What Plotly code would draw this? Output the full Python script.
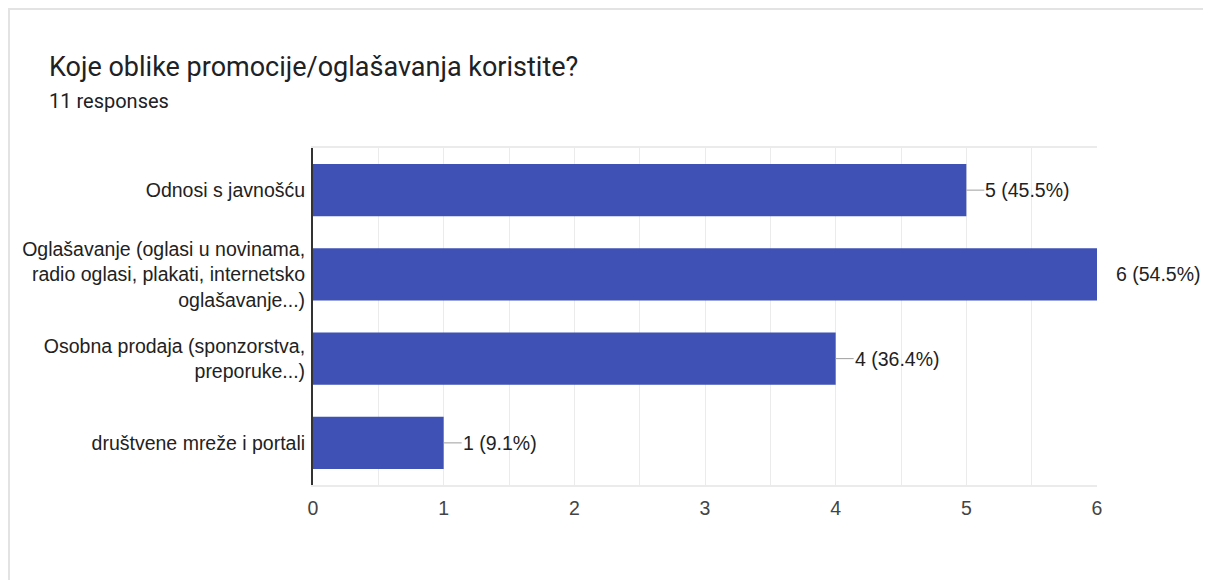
import plotly.graph_objects as go

# ---- data ----
categories = [
    "Odnosi s javnošću",
    "Oglašavanje (oglasi u novinama,<br>radio oglasi, plakati, internetsko<br>oglašavanje...)",
    "Osobna prodaja (sponzorstva,<br>preporuke...)",
    "društvene mreže i portali",
]
counts = [5, 6, 4, 1]
total_responses = 11
x_ticks = [0, 1, 2, 3, 4, 5, 6]

title_text = "Koje oblike promocije/oglašavanja koristite?"
subtitle_text = f"{total_responses} responses"

OFF = 8  # page body margin
W, H = 1211 - OFF, 580 - OFF
L, R, T, B = 313 - OFF, W - (1097 - OFF), 148 - OFF, H - (485 - OFF)
pw, ph = W - L - R, H - T - B

BAR = "#3f51b5"
LABEL_FONT = "Arial, Liberation Sans, sans-serif"
FS = 19.5


def px_x(x):
    return (x - OFF - L) / pw


def px_y(y):
    return (H - (y - OFF) - B) / ph


fig = go.Figure()
fig.add_trace(go.Bar(
    y=categories, x=counts, orientation="h",
    marker=dict(color=BAR, line=dict(width=0)),
    width=0.62, hoverinfo="skip", showlegend=False,
))

# leader lines (clipped at the plot area like the original)
lead = 18 / pw * 6
lx, ly = [], []
for c, v in zip(categories, counts):
    lx += [v, v + lead, None]
    ly += [c, c, None]
fig.add_trace(go.Scatter(x=lx, y=ly, mode="lines",
                         line=dict(color="#9e9e9e", width=1),
                         hoverinfo="skip", showlegend=False))

annotations = []
for c, v in zip(categories, counts):
    annotations.append(dict(
        x=v, y=c, xref="x", yref="y", text=f"{v} ({v / total_responses * 100:.1f}%)",
        showarrow=False, xanchor="left", yanchor="middle", xshift=17,
        font=dict(family=LABEL_FONT, size=FS, color="#222222"),
    ))

annotations.append(dict(
    x=px_x(47), y=px_y(67), xref="paper", yref="paper", text=title_text,
    showarrow=False, xanchor="left", yanchor="middle",
    font=dict(family="Roboto, sans-serif", size=27, color="#202124"),
))
annotations.append(dict(
    x=px_x(47), y=px_y(101), xref="paper", yref="paper", text=subtitle_text,
    showarrow=False, xanchor="left", yanchor="middle",
    font=dict(family="Roboto, sans-serif", size=20, color="#202124"),
))

shapes = [
    # card border (top and left edges)
    dict(type="line", xref="paper", yref="paper",
         x0=px_x(OFF), x1=px_x(1211), y0=px_y(OFF + 1), y1=px_y(OFF + 1),
         line=dict(color="#e3e3e3", width=2), layer="below"),
    dict(type="line", xref="paper", yref="paper",
         x0=px_x(OFF + 1), x1=px_x(OFF + 1), y0=px_y(OFF), y1=px_y(580),
         line=dict(color="#e3e3e3", width=2), layer="below"),
]

fig.update_layout(
    width=W, height=H,
    margin=dict(l=L, r=R, t=T, b=B, pad=0),
    paper_bgcolor="white", plot_bgcolor="white",
    annotations=annotations, shapes=shapes,
    xaxis=dict(
        range=[0, 6], tickvals=x_ticks, ticktext=[str(t) for t in x_ticks],
        showgrid=True, gridcolor="#ebebeb", gridwidth=1,
        minor=dict(dtick=0.5, showgrid=True, gridcolor="#ebebeb", gridwidth=1),
        zeroline=False, showline=True, linecolor="#ebebeb", linewidth=2, mirror=True,
        ticks="", tickfont=dict(family=LABEL_FONT, size=FS, color="#444444"),
        ticklabelstandoff=5, fixedrange=True,
    ),
    yaxis=dict(
        autorange="reversed", showgrid=False, zeroline=False,
        showline=True, linecolor="#333333", linewidth=2,
        ticks="", ticklabelstandoff=2,
        tickfont=dict(family=LABEL_FONT, size=FS, color="#222222"),
        fixedrange=True,
    ),
)

fig.write_html("out.html")
